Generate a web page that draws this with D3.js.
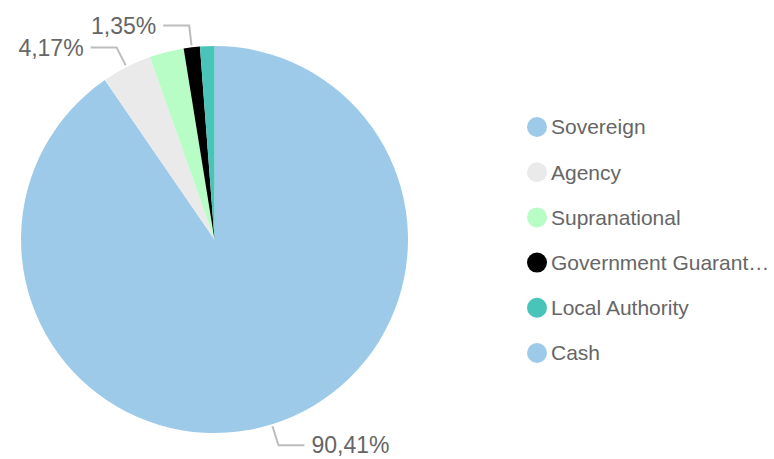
<!DOCTYPE html>
<html>
<head>
<meta charset="utf-8">
<script src="https://cdn.jsdelivr.net/npm/d3@7"></script>
<style>
  body { margin: 0; background: #fff; }
  svg { display: block; font-family: "Liberation Sans", Arial, sans-serif; }
</style>
</head>
<body>
<div id="chart"></div>
<script>
// Dữ liệu biểu đồ
const categories = ["Sovereign", "Agency", "Supranational", "Government Guaranteed", "Local Authority", "Cash"];
const values = [90.41, 4.17, 2.87, 1.35, 1.20, 0.00];
const colors = ["#9ecae9", "#eaeaea", "#b8fcc6", "#000000", "#48c4b8", "#9ecae9"];
// chỉ hiện nhãn cho các lát này
const labelled = ["Sovereign", "Agency", "Government Guaranteed"];

const width = 774, height = 459;
const cx = 214.5, cy = 239.5, radius = 193.5;

const data = categories.map((c, i) => ({ name: c, value: values[i] }));

const svg = d3.select("#chart")
    .append("svg")
    .attr("width", width)
    .attr("height", height);

const color = d3.scaleOrdinal().domain(categories).range(colors);

const pie = d3.pie().sort(null).value(d => d.value);
const arc = d3.arc().innerRadius(0).outerRadius(radius);

const g = svg.append("g").attr("transform", `translate(${cx},${cy})`);

const arcs = pie(data);

g.selectAll("path")
    .data(arcs)
    .enter()
    .append("path")
    .attr("d", arc)
    .attr("fill", d => color(d.data.name));

// Đường dẫn nhãn + nhãn phần trăm
const fmt = v => d3.format(".2f")(v).replace(".", ",") + "%";
const elbowArc = d3.arc().innerRadius(radius + 22).outerRadius(radius + 22);
const startArc = d3.arc().innerRadius(radius + 2).outerRadius(radius + 2);

arcs.filter(d => labelled.includes(d.data.name)).forEach(d => {
    const p0 = startArc.centroid(d);
    const p1 = elbowArc.centroid(d);
    const mid = (d.startAngle + d.endAngle) / 2;
    const right = mid < Math.PI;
    const p2 = [p1[0] + (right ? 26 : -26), p1[1]];

    g.append("polyline")
        .attr("points", [p0, p1, p2].map(p => p.join(",")).join(" "))
        .attr("fill", "none")
        .attr("stroke", "#bdbdbd")
        .attr("stroke-width", 2);

    g.append("text")
        .attr("x", p2[0] + (right ? 7 : -7))
        .attr("y", p2[1])
        .attr("dy", "0.35em")
        .attr("text-anchor", right ? "start" : "end")
        .style("font-size", "23px")
        .style("fill", "#666")
        .text(fmt(d.data.value));
});

// Chú giải
const legend = svg.append("g").attr("transform", "translate(537,127)");
const rowH = 45.2;

const items = legend.selectAll("g")
    .data(categories)
    .enter()
    .append("g")
    .attr("transform", (d, i) => `translate(0,${i * rowH})`);

items.append("circle")
    .attr("r", 10)
    .attr("fill", d => color(d));

items.append("text")
    .attr("x", 14)
    .attr("dy", "0.35em")
    .style("font-size", "21px")
    .style("fill", "#666")
    .text(d => d)
    .each(function() {
        // cắt chữ nếu quá dài
        const el = d3.select(this);
        const maxW = width - 551 - 2;
        let txt = el.text();
        if (this.getComputedTextLength() > maxW) {
            while (txt.length > 0) {
                txt = txt.slice(0, -1);
                el.text(txt.trimEnd() + "…");
                if (this.getComputedTextLength() <= maxW) break;
            }
        }
    });
</script>
</body>
</html>
